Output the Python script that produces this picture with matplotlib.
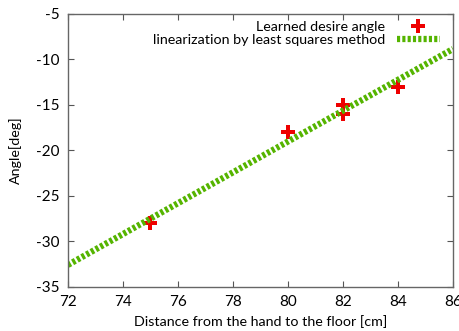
import numpy as np
import matplotlib
matplotlib.use('Agg')
import matplotlib.pyplot as plt

# measured points: hand-to-floor distance [cm] vs learned angle [deg]
distance = [75, 80, 82, 82, 84]
angle = [-28, -18, -15, -16, -13]

x_range = [72, 86]
y_range = [-35, -5]
x_ticks = [72, 74, 76, 78, 80, 82, 84, 86]
y_ticks = [-35, -30, -25, -20, -15, -10, -5]

plt.rcParams['font.family'] = ['Lato', 'DejaVu Sans']
plt.rcParams['axes.unicode_minus'] = False

# least squares fit of the angle against distance
slope, intercept = np.polyfit(distance, angle, 1)
fit_x = np.array(x_range)
fit_y = slope * fit_x + intercept

fig = plt.figure(figsize=(4.59, 3.31), dpi=100)
ax = fig.add_axes([0.148, 0.133, 0.839, 0.825])

ax.plot(distance, angle, linestyle='none', marker='P', markersize=10,
        color='#ee0000', markeredgewidth=0, label='Learned desire angle')
ax.plot(fit_x, fit_y, color='#55b400', linewidth=4.5, linestyle=(0, (0.5, 0.35)),
        label='linearization by least squares method')

ax.set_xlim(x_range)
ax.set_ylim(y_range)
ax.set_xticks(x_ticks)
ax.set_yticks(y_ticks)
ax.tick_params(direction='in', top=True, right=True, length=4, width=0.8,
               color='#555555', labelsize=11, pad=6)
for spine in ax.spines.values():
    spine.set_color('#666666')
    spine.set_linewidth(1.0)

ax.set_xlabel('Distance from the hand to the floor [cm]', fontsize=10.3, labelpad=4)
ax.set_ylabel('Angle[deg]', fontsize=10.3, labelpad=10)

leg = ax.legend(loc='upper right', frameon=False, fontsize=10.3, markerfirst=False,
                handlelength=3.0, borderaxespad=0.0, labelspacing=0.05,
                bbox_to_anchor=(0.98, 0.995))

fig.savefig('out.png', dpi=100)
